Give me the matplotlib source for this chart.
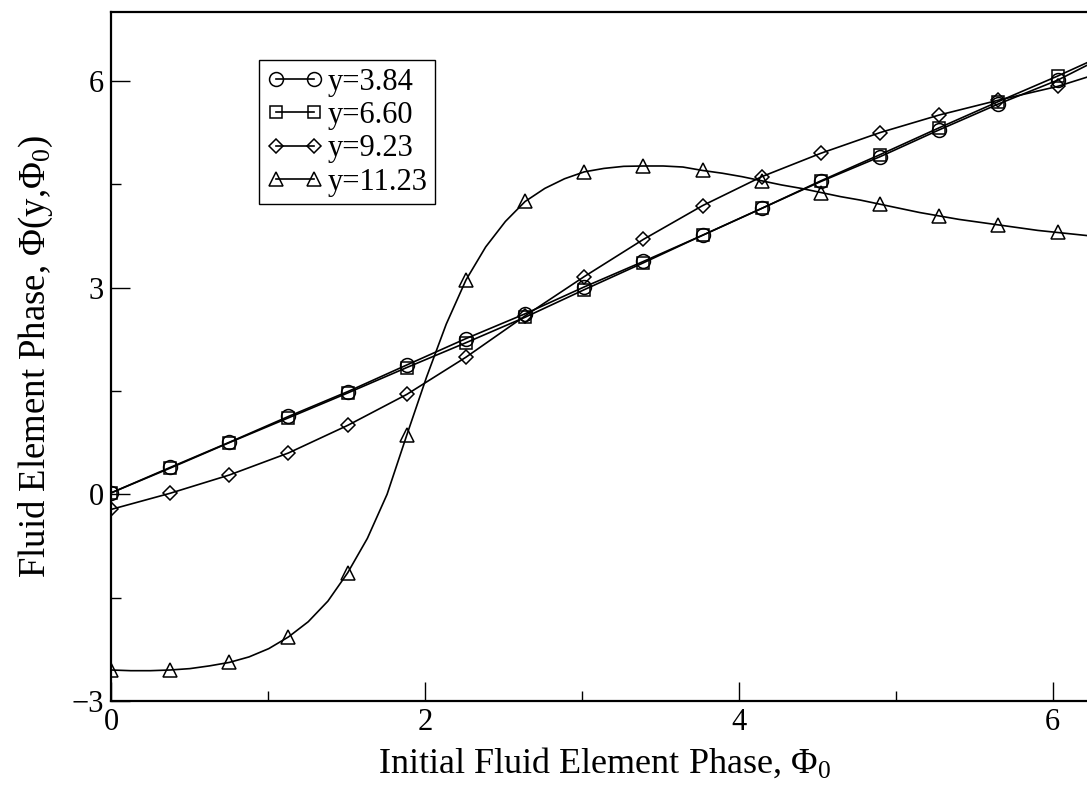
import numpy as np
import matplotlib
matplotlib.use("Agg")
import matplotlib.pyplot as plt
from matplotlib.ticker import MultipleLocator

# ─────────────────────────────────────────────────────────────────────────────
# Data (markers every third point of a 51-point grid)
# ─────────────────────────────────────────────────────────────────────────────
phi_grid = np.linspace(0.0, 2 * np.pi, 51)
phi_mark = phi_grid[::3]
phi_line = np.append(phi_mark, 2 * np.pi)

labels = ["y=3.84", "y=6.60", "y=9.23", "y=11.23"]
markers = ["o", "s", "D", "^"]

y384 = [0.02, 0.39, 0.755, 1.13, 1.49, 1.877, 2.26, 2.62, 3.01, 3.38,
        3.76, 4.15, 4.54, 4.90, 5.29, 5.665, 6.01]
y384_end = 6.30
y660 = [0.02, 0.38, 0.75, 1.11, 1.47, 1.84, 2.20, 2.57, 2.97, 3.36,
        3.76, 4.15, 4.55, 4.93, 5.32, 5.70, 6.07]
y660_end = 6.33
y923 = [-0.22, 0.015, 0.28, 0.60, 1.00, 1.45, 1.99, 2.59, 3.16, 3.70,
        4.19, 4.61, 4.95, 5.25, 5.505, 5.72, 5.92]
y923_end = 6.10

# y=11.23 bends sharply, so its line is read at every grid point
y1123_line = [-2.55, -2.56, -2.56, -2.55, -2.53, -2.49, -2.44, -2.36, -2.24,
              -2.07, -1.85, -1.55, -1.14, -0.64, 0.00, 0.86, 1.70, 2.47,
              3.11, 3.59, 3.96, 4.25, 4.44, 4.58, 4.68, 4.73, 4.76, 4.765,
              4.765, 4.75, 4.70, 4.66, 4.61, 4.55, 4.49, 4.44, 4.38, 4.32,
              4.27, 4.21, 4.15, 4.09, 4.04, 3.99, 3.95, 3.91, 3.87, 3.83,
              3.80, 3.77, 3.74]

x_ticks = [0, 2, 4, 6]
y_ticks = [-3, 0, 3, 6]

# ─────────────────────────────────────────────────────────────────────────────
# Style
# ─────────────────────────────────────────────────────────────────────────────
plt.rcParams['font.family'] = ['Liberation Serif', 'DejaVu Serif']
plt.rcParams['mathtext.fontset'] = 'custom'
plt.rcParams['mathtext.rm'] = 'Liberation Serif'
plt.rcParams['mathtext.it'] = 'Liberation Serif:italic'
plt.rcParams['axes.unicode_minus'] = True

fig = plt.figure(figsize=(10.87, 7.97), dpi=100)
ax = fig.add_axes([111 / 1087, 96 / 797, 986 / 1087, 689 / 797])

line_kw = dict(color='black', lw=1.2, mfc='none', mec='black', mew=1.1)
marker_sizes = [10.0, 9.0, 7.0, 10.5]

series = [
    (np.append(y384, y384_end)),
    (np.append(y660, y660_end)),
    (np.append(y923, y923_end)),
]
for vals, m, ms, lab in zip(series, markers[:3], marker_sizes[:3], labels[:3]):
    ax.plot(phi_line, vals, marker=m, ms=ms, markevery=list(range(17)),
            label=lab, **line_kw)

# triangle series: dense line, markers every third point
ax.plot(phi_grid, y1123_line, marker=markers[3], ms=marker_sizes[3],
        markevery=3, label=labels[3], **line_kw)

ax.set_xlim(0, 2 * np.pi)
ax.set_ylim(-3, 7)
ax.set_xticks(x_ticks)
ax.set_yticks(y_ticks)
ax.xaxis.set_minor_locator(MultipleLocator(1))
ax.yaxis.set_minor_locator(MultipleLocator(1.5))
ax.tick_params(which='major', direction='in', length=14, width=1.0,
               labelsize=22, top=False, right=False)
ax.tick_params(which='minor', direction='in', length=7, width=1.0,
               top=False, right=False)
ax.tick_params(axis='x', pad=5)
ax.tick_params(axis='y', pad=5)
for s in ax.spines.values():
    s.set_linewidth(1.6)

ax.set_xlabel('Initial Fluid Element Phase, Φ$_0$', fontsize=26, labelpad=7)
ax.set_ylabel('Fluid Element Phase, Φ(y,Φ$_0$)', fontsize=26.5, labelpad=12)

leg = ax.legend(loc='upper left', bbox_to_anchor=(0.150, 0.930),
                borderaxespad=0, numpoints=2, fontsize=22, fancybox=False,
                edgecolor='black', framealpha=1, handlelength=1.84,
                handletextpad=0.15, labelspacing=0.14, borderpad=0.25)
leg.get_frame().set_linewidth(1.0)

plt.savefig('out.png', dpi=100)
